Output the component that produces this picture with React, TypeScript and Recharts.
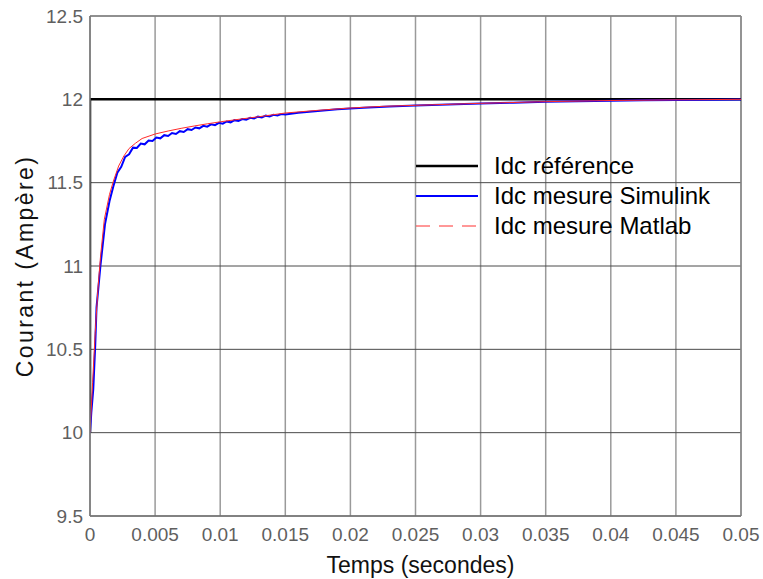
import React from 'react';
import {
  LineChart, Line, XAxis, YAxis, CartesianGrid, ReferenceLine
} from 'recharts';

// time axis ticks (s) and current ticks (A)
const X_TICKS = [0, 0.005, 0.01, 0.015, 0.02, 0.025, 0.03, 0.035, 0.04, 0.045, 0.05];
const Y_TICKS = [9.5, 10, 10.5, 11, 11.5, 12, 12.5];

// Idc référence : step at t = 0
const refT = [0, 0, 0.05];
const refV = [10, 12, 12];

// Idc mesure Simulink (with the small ripple)
const simT = [
  0, 0.0001, 0.00025, 0.0004, 0.0005, 0.0008, 0.00115, 0.0015, 0.0018,
  0.0021, 0.0024, 0.0027, 0.003, 0.0033, 0.0036, 0.0039, 0.0042, 0.0045, 0.0048,
  0.0051, 0.0054, 0.0057, 0.006, 0.0063, 0.0066, 0.0069, 0.0072, 0.0075, 0.0078,
  0.0081, 0.0084, 0.0087, 0.009, 0.0093, 0.0096, 0.0099, 0.0102, 0.0105, 0.0108,
  0.0111, 0.0114, 0.0117, 0.012, 0.0123, 0.0126, 0.0129, 0.0132, 0.0135, 0.0138,
  0.0141, 0.0144, 0.0147, 0.015,
  0.016, 0.0175, 0.019, 0.021, 0.023, 0.025, 0.0275, 0.03, 0.0325, 0.035,
  0.0375, 0.04, 0.0425, 0.045, 0.0475, 0.05,
];
const simV = [
  10.0, 10.12, 10.26, 10.52, 10.75, 11.0, 11.25, 11.39, 11.48,
  11.56, 11.595, 11.655, 11.67, 11.71, 11.708, 11.735, 11.73, 11.753, 11.75,
  11.771, 11.766, 11.785, 11.78, 11.798, 11.792, 11.809, 11.804, 11.821, 11.816,
  11.831, 11.826, 11.841, 11.836, 11.85, 11.845, 11.859, 11.854, 11.867, 11.862,
  11.875, 11.87, 11.882, 11.878, 11.889, 11.885, 11.896, 11.891, 11.902, 11.897,
  11.907, 11.903, 11.912, 11.909,
  11.92, 11.93, 11.94, 11.95, 11.957, 11.963, 11.969, 11.975, 11.98, 11.985,
  11.989, 11.992, 11.994, 11.996, 11.998, 11.999,
];

// Idc mesure Matlab
const matT = [
  0, 0.0002, 0.0004, 0.0006, 0.0008, 0.0011, 0.0015, 0.0018, 0.0022, 0.0026,
  0.003, 0.0035, 0.004, 0.005, 0.006, 0.007, 0.008, 0.009, 0.01, 0.0115,
  0.013, 0.015, 0.0175, 0.02, 0.0225, 0.025, 0.0275, 0.03, 0.035, 0.04, 0.045, 0.05,
];
const matV = [
  10.0, 10.3, 10.6, 10.85, 11.05, 11.28, 11.43, 11.51, 11.6, 11.66,
  11.705, 11.737, 11.765, 11.792, 11.81, 11.826, 11.84, 11.853, 11.865, 11.881,
  11.896, 11.918, 11.934, 11.948, 11.958, 11.964, 11.97, 11.976, 11.986, 11.993, 11.997, 12.0,
];

const LEGEND = [
  { label: 'Idc référence', color: '#000000', width: 2.5, dash: undefined },
  { label: 'Idc mesure Simulink', color: '#0000ff', width: 2, dash: undefined },
  { label: 'Idc mesure Matlab', color: '#ff3030', width: 1, dash: '14 9' },
];

const toPoints = (t: number[], v: number[]) => t.map((x, i) => ({ t: x, v: v[i] }));

const FONT = '"Liberation Sans", Arial, sans-serif';
const tickStyle = { fontSize: 19, fill: '#5f5f5f', fontFamily: FONT };

export default function App() {
  const refData = toPoints(refT, refV);
  const simData = toPoints(simT, simV);
  const matData = toPoints(matT, matV);

  return (
    <div style={{ position: 'absolute', left: 0, top: 0, width: 763, height: 579, background: '#fff', fontFamily: FONT }}>
      <LineChart width={763} height={579} margin={{ top: 16, right: 22, left: 0, bottom: 0 }}>
        {/* vertical grid lighter, horizontal grid darker */}
        <CartesianGrid horizontal={false} stroke="#9a9a9a" strokeWidth={1.5} />
        <CartesianGrid vertical={false} stroke="#4a4a4a" strokeWidth={1} />
        <XAxis
          dataKey="t" type="number" domain={[0, 0.05]} ticks={X_TICKS} interval={0}
          allowDataOverflow height={63} tickLine={false} tickSize={0} tickMargin={12}
          axisLine={{ stroke: '#777', strokeWidth: 1.5 }} tick={tickStyle}
          label={{ value: 'Temps (secondes)', position: 'insideBottom', offset: 6, dx: 5, style: { fontSize: 23, fill: '#111', fontFamily: FONT } }}
        />
        <YAxis
          dataKey="v" type="number" domain={[9.5, 12.5]} ticks={Y_TICKS} interval={0}
          allowDataOverflow width={90} tickLine={false} tickSize={0} tickMargin={7}
          axisLine={{ stroke: '#777', strokeWidth: 1.5 }} tick={tickStyle}
          label={{ value: 'Courant (Ampère)', angle: -90, position: 'insideLeft', offset: 25, style: { textAnchor: 'middle', fontSize: 23, fill: '#111', fontFamily: FONT, letterSpacing: 2.4 } }}
        />
        <ReferenceLine y={12.5} stroke="#8a8a8a" strokeWidth={1.5} />
        <ReferenceLine x={0.05} stroke="#8a8a8a" strokeWidth={1.5} />
        <Line data={refData} dataKey="v" type="linear" stroke="#000" strokeWidth={2.5} dot={false} isAnimationActive={false} />
        <Line data={simData} dataKey="v" type="linear" stroke="#0000ff" strokeWidth={2} dot={false} isAnimationActive={false} />
        <Line data={matData} dataKey="v" type="linear" stroke="#ff2a2a" strokeWidth={1} dot={false} isAnimationActive={false} />
      </LineChart>

      {/* legend, no box */}
      <div style={{ position: 'absolute', left: 416, top: 151 }}>
        {LEGEND.map(item => (
          <div key={item.label} style={{ display: 'flex', alignItems: 'center', height: 30 }}>
            <svg width={62} height={10} style={{ display: 'block' }}>
              <line x1={0} y1={5} x2={62} y2={5} stroke={item.color} strokeWidth={item.width} strokeDasharray={item.dash} />
            </svg>
            <span style={{ marginLeft: 16, fontSize: 24, color: '#000', lineHeight: '30px', whiteSpace: 'nowrap' }}>{item.label}</span>
          </div>
        ))}
      </div>
    </div>
  );
}
